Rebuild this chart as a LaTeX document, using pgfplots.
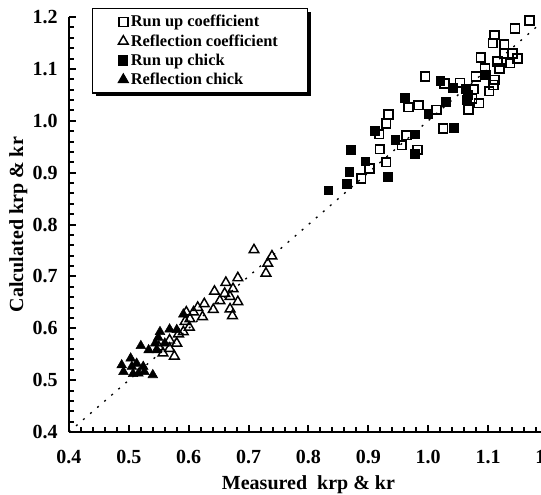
\documentclass[border=0pt]{standalone}
\usepackage{pgfplots}
\pgfplotsset{compat=1.18}
\usepackage{pgfplotstable}
\usepackage{fontspec}
\setmainfont{Liberation Serif}
\usetikzlibrary{shadows}

\pgfplotstableread{
x y
1.169 1.193
1.145 1.178
1.111 1.165
1.108 1.150
1.127 1.147
1.127 1.130
1.141 1.130
1.149 1.120
1.137 1.111
1.116 1.114
1.119 1.101
1.088 1.122
1.095 1.101
1.080 1.085
1.111 1.079
1.109 1.069
1.102 1.057
1.076 1.061
1.073 1.043
1.085 1.034
1.067 1.022
1.053 1.073
1.027 1.072
0.995 1.085
0.984 1.030
0.967 1.026
1.014 1.021
0.934 1.012
0.930 0.995
0.918 0.974
1.025 0.985
0.919 0.945
0.964 0.972
0.956 0.953
0.982 0.944
0.930 0.920
0.902 0.908
0.888 0.889
}\runupcoef

\pgfplotstableread{
x y
0.709 0.751
0.739 0.739
0.732 0.725
0.729 0.706
0.682 0.697
0.662 0.688
0.643 0.671
0.674 0.676
0.660 0.667
0.669 0.661
0.652 0.653
0.682 0.651
0.669 0.637
0.673 0.624
0.626 0.647
0.641 0.636
0.615 0.640
0.608 0.631
0.623 0.622
0.596 0.631
0.602 0.618
0.594 0.613
0.601 0.602
0.591 0.593
0.583 0.589
0.580 0.571
0.568 0.577
0.576 0.546
0.557 0.552
0.568 0.561
0.550 0.564
}\reflcoef

\pgfplotstableread{
x y
1.096 1.088
1.020 1.077
1.041 1.064
1.063 1.062
1.066 1.050
1.064 1.040
0.961 1.044
1.029 1.036
1.000 1.014
1.043 0.987
0.911 0.980
0.945 0.964
0.977 0.974
0.977 0.936
0.871 0.944
0.895 0.922
0.868 0.902
0.932 0.892
0.864 0.879
0.833 0.866
}\runupchick

\pgfplotstableread{
x y
0.591 0.627
0.568 0.598
0.552 0.593
0.580 0.597
0.549 0.582
0.544 0.571
0.560 0.571
0.520 0.566
0.533 0.558
0.547 0.558
0.503 0.542
0.488 0.529
0.491 0.516
0.505 0.526
0.513 0.532
0.516 0.513
0.524 0.526
0.540 0.510
0.507 0.512
0.526 0.516
}\reflchick

\begin{document}
\begin{tikzpicture}
\begin{axis}[
  at={(0,0)}, anchor=south west,
  width=359.2pt, height=311.25pt, scale only axis,
  xmin=0.4, xmax=1.2, ymin=0.4, ymax=1.2,
  clip=false,
  axis lines=left,
  axis line style={-, line width=2.2pt},
  xtick={0.4,0.5,0.6,0.7,0.8,0.9,1.0,1.1,1.2},
  ytick={0.4,0.5,0.6,0.7,0.8,0.9,1.0,1.1,1.2},
  minor x tick num=4, minor y tick num=4,
  tick align=inside,
  major tick length=5pt, minor tick length=3.5pt,
  every tick/.style={black, line width=1.5pt},
  /pgf/number format/assume math mode=true,
  /pgf/number format/.cd, fixed, fixed zerofill, precision=1, /pgfplots/.cd,
  tick label style={font=\fontsize{15}{18}\selectfont\bfseries},
  xticklabel style={yshift=-10pt},
  yticklabel style={xshift=-5pt},
  label style={font=\fontsize{15}{18}\selectfont\bfseries},
  xlabel={Measured\ \ krp \& kr},
  ylabel={Calculated krp \& kr},
  xlabel style={yshift=-2pt},
  ylabel style={yshift=-3pt},
  legend style={
    at={(axis description cs:0.048,1.022)}, anchor=north west,
    draw=black, line width=1pt, fill=white,
    drop shadow={shadow xshift=2.5pt, shadow yshift=-2.5pt, fill=black, opacity=1},
    font=\fontsize{12.3}{14.5}\selectfont\bfseries,
    inner xsep=0pt, inner ysep=3pt,
    cells={anchor=west}, row sep=0.3pt,
    /tikz/every odd column/.style={column sep=0pt},
  },
  legend image code/.code={%
    \pgfpathrectangle{\pgfpoint{-23pt}{-3pt}}{\pgfpoint{26.5pt}{6pt}}\pgfusepath{}%
    \draw[#1] plot coordinates {(0pt,0pt)};},
]
\addplot[only marks, mark=square, mark size=3.3pt, mark options={line width=1.2pt, black}] table {\runupcoef};
\addlegendentry{Run up coefficient}
\addplot[only marks, mark=triangle, mark size=4.2pt, mark options={line width=1.1pt, black}] table {\reflcoef};
\addlegendentry{Reflection coefficient\hspace*{20pt}}
\addplot[only marks, mark=square*, mark size=3.3pt, mark options={black, fill=black}] table {\runupchick};
\addlegendentry{Run up chick}
\addplot[only marks, mark=triangle*, mark size=4.2pt, mark options={black, fill=black}] table {\reflchick};
\addlegendentry{Reflection chick}
\addplot[black, line width=1pt, dash pattern=on 1.5pt off 5.5pt, forget plot] coordinates {(0.4,0.4) (1.2,1.2)};
\end{axis}
\pgfresetboundingbox
\useasboundingbox (-51.75pt,-46.5pt) rectangle (354pt,324pt);
\end{tikzpicture}
\end{document}
